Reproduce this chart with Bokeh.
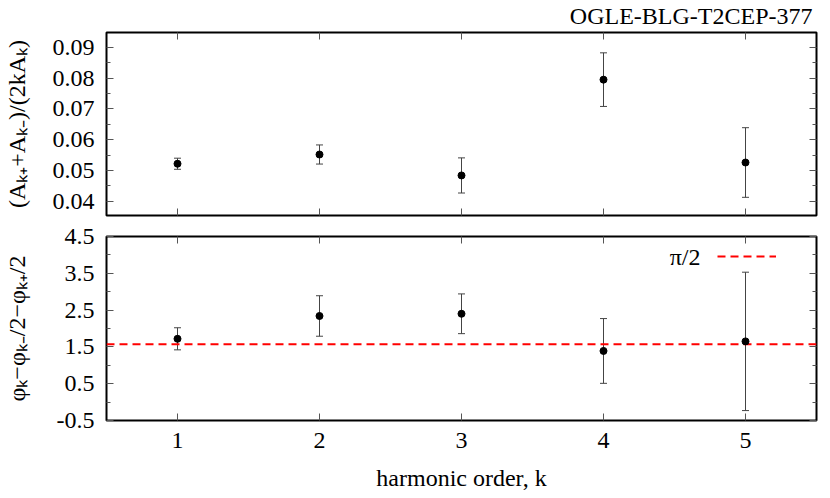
import numpy as np
from bokeh.plotting import figure
from bokeh.layouts import column
from bokeh.models import (ColumnDataSource, Whisker, TeeHead, FixedTicker, LinearAxis,
                          Label, Legend, LegendItem, Range1d, CustomLabelingPolicy)
from bokeh.embed import file_html
from bokeh.resources import INLINE

# harmonic order
order = [1, 2, 3, 4, 5]
x_ticks = [1, 2, 3, 4, 5]
x_lo, x_hi = 0.5, 5.5

# upper panel: (A_k+ + A_k-)/(2k A_k)
amp_ratio = [0.0522, 0.0552, 0.0484, 0.0795, 0.0526]
amp_err = [0.0018, 0.0031, 0.0057, 0.0087, 0.0113]
amp_ticks = [0.04, 0.05, 0.06, 0.07, 0.08, 0.09]
amp_minor = [0.035, 0.045, 0.055, 0.065, 0.075, 0.085]

# lower panel: phase combination
phase_diff = [1.72, 2.34, 2.40, 1.39, 1.65]
phase_err = [0.30, 0.55, 0.54, 0.88, 1.88]
phase_ticks = [-0.5, 0.5, 1.5, 2.5, 3.5, 4.5]
phase_minor = [0, 1, 2, 3, 4]
half_pi = np.pi / 2

FONT = "Liberation Serif"
FS = "24px"

# hide labels on the mirrored axes
no_labels = CustomLabelingPolicy(code="for (const i of indices) { indices.unset(i) }; return indices")


def make_panel(yr, yticks, yminor, ylabel, ylab_off, fh, top, bottom, xlabels, xlabel,
               title=None):
    p = figure(frame_width=710, frame_height=fh, x_range=Range1d(x_lo, x_hi), y_range=yr,
               output_backend="svg", toolbar_location=None, title=title,
               min_border_left=106, min_border_right=2, min_border_top=top,
               min_border_bottom=bottom, x_axis_location=None, y_axis_location=None)
    p.grid.visible = False
    p.outline_line_color = "black"
    p.outline_line_width = 2
    p.background_fill_color = "white"
    p.border_fill_color = "white"

    xt = FixedTicker(ticks=x_ticks, minor_ticks=[])
    yt = FixedTicker(ticks=yticks, minor_ticks=yminor)
    for side, is_x, labelled in (("below", True, xlabels), ("above", True, False),
                                 ("left", False, True), ("right", False, False)):
        ax = LinearAxis(ticker=xt if is_x else yt)
        ax.axis_line_color = None
        ax.major_tick_in = 7
        ax.major_tick_out = 0
        ax.minor_tick_in = 4
        ax.minor_tick_out = 0
        ax.major_tick_line_color = "#555555"
        ax.minor_tick_line_color = "#555555"
        ax.major_label_text_font = FONT
        ax.major_label_text_color = "black"
        ax.major_label_text_font_size = FS
        if labelled:
            ax.major_label_standoff = 12
            ax.major_label_overrides = {t: str(t) for t in (xt if is_x else yt).ticks}
        else:
            ax.major_label_policy = no_labels
            ax.major_label_text_font_size = "1px"
            ax.major_label_standoff = 0
        ax.axis_label_standoff = 14
        if side == "left":
            ax.axis_label = ylabel
            ax.axis_label_standoff = ylab_off
        if side == "below" and xlabel:
            ax.axis_label = xlabel
        ax.axis_label_text_font = FONT
        ax.axis_label_text_font_size = FS
        ax.axis_label_text_font_style = "normal"
        ax.axis_label_text_color = "black"
        p.add_layout(ax, side)
    return p


def add_points(p, yvals, errs):
    lo = [v - e for v, e in zip(yvals, errs)]
    hi = [v + e for v, e in zip(yvals, errs)]
    src = ColumnDataSource(dict(k=order, y=yvals, lo=lo, hi=hi))
    w = Whisker(source=src, base="k", upper="hi", lower="lo", dimension="height",
                line_color="#444444", line_width=1,
                upper_head=TeeHead(size=7, line_color="#444444", line_width=1),
                lower_head=TeeHead(size=7, line_color="#444444", line_width=1))
    p.add_layout(w)
    p.scatter("k", "y", source=src, size=7, color="black")


p1 = make_panel(Range1d(0.0354, 0.0948), amp_ticks, amp_minor,
                "(Aₖ₊+Aₖ₋)/(2kAₖ)", 20, 183, 26, 8, False, None,
                title="OGLE-BLG-T2CEP-377")
p1.title.align = "right"
p1.title.offset = 4
p1.title.standoff = 0
p1.title.text_font = FONT
p1.title.text_font_size = "24px"
p1.title.text_font_style = "normal"
p1.title.text_color = "black"
add_points(p1, amp_ratio, amp_err)

p2 = make_panel(Range1d(-0.5, 4.5), phase_ticks, phase_minor,
                "φₖ−φₖ₋/2−φₖ₊/2", 24, 184, 13, 60, True, "harmonic order, k")
pi_line = p2.line(x=[x_lo, x_hi], y=[half_pi, half_pi], line_color="red",
                  line_width=2, line_dash="8 5")
add_points(p2, phase_diff, phase_err)
leg = Legend(items=[LegendItem(label=" ", renderers=[pi_line])], location=(611, 154),
             glyph_width=59, glyph_height=20, label_width=1, label_standoff=0,
             padding=0, margin=0, border_line_color=None, background_fill_alpha=0,
             label_text_font_size="2px")
p2.add_layout(leg)
p2.add_layout(Label(x=594, y=164, x_units="screen", y_units="screen", text="π/2",
                    text_align="right", text_baseline="middle", text_font=FONT,
                    text_font_size=FS, text_color="black"))

p = column(p1, p2)
open("out.html", "w").write(file_html(p, INLINE))
